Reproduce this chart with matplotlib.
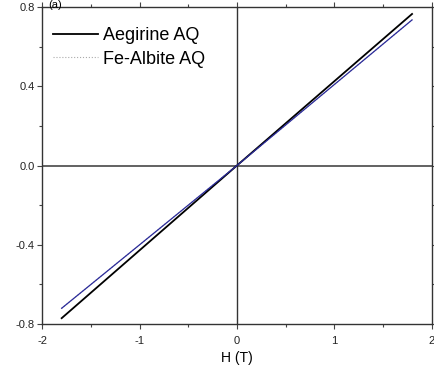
import matplotlib
matplotlib.use("Agg")
import matplotlib.pyplot as plt
from matplotlib.ticker import MultipleLocator

plt.rcParams["font.family"] = ["Liberation Sans", "DejaVu Sans"]

# field (T) and magnetisation
h = [-1.8, 0.0, 1.8]
aegirine = [-0.77, 0.0, 0.765]
fe_albite = [-0.72, 0.0, 0.735]

fig = plt.figure(figsize=(4.35, 3.7), dpi=100)
ax = fig.add_axes([0.097, 0.124, 0.895, 0.857])

ax.axhline(0, color="#555555", lw=1.3, zorder=1)
ax.axvline(0, color="#333333", lw=1.0, zorder=1)

ax.plot(h, aegirine, color="black", lw=1.3, label="Aegirine AQ", zorder=3)
ax.plot(h, fe_albite, color="#2a2a9a", lw=0.9, zorder=3)
ax.plot(h, fe_albite, color="#aaaaaa", lw=0.8, ls=":", label="Fe-Albite AQ", zorder=2)

ax.set_xlim(-2, 2)
ax.set_ylim(-0.8, 0.8)
ax.xaxis.set_major_locator(MultipleLocator(1))
ax.xaxis.set_minor_locator(MultipleLocator(0.5))
ax.yaxis.set_major_locator(MultipleLocator(0.4))
ax.yaxis.set_minor_locator(MultipleLocator(0.2))
ax.yaxis.set_major_formatter(lambda v, p: f"{v:.1f}")
ax.xaxis.set_major_formatter(lambda v, p: f"{v:g}")
ax.tick_params(which="both", direction="out", labelsize=8, width=0.8,
               color="#444444", labelcolor="#222222", pad=2)
ax.tick_params(axis="x", which="both", pad=5)
ax.tick_params(which="both", top=True, right=True)
ax.tick_params(which="major", length=3.5)
ax.tick_params(which="minor", length=2)
for s in ax.spines.values():
    s.set_linewidth(1.0)
    s.set_color("#333333")

ax.set_xlabel("H (T)", fontsize=10, labelpad=4)
ax.legend(loc="upper left", bbox_to_anchor=(-0.033, 1.01), frameon=False,
          fontsize=13, handlelength=2.5, handletextpad=0.3, labelspacing=0.35,
          borderaxespad=0.9)

fig.text(0.11, 1.0, "(a)", fontsize=8, va="top")

fig.savefig("out.png", dpi=100)
